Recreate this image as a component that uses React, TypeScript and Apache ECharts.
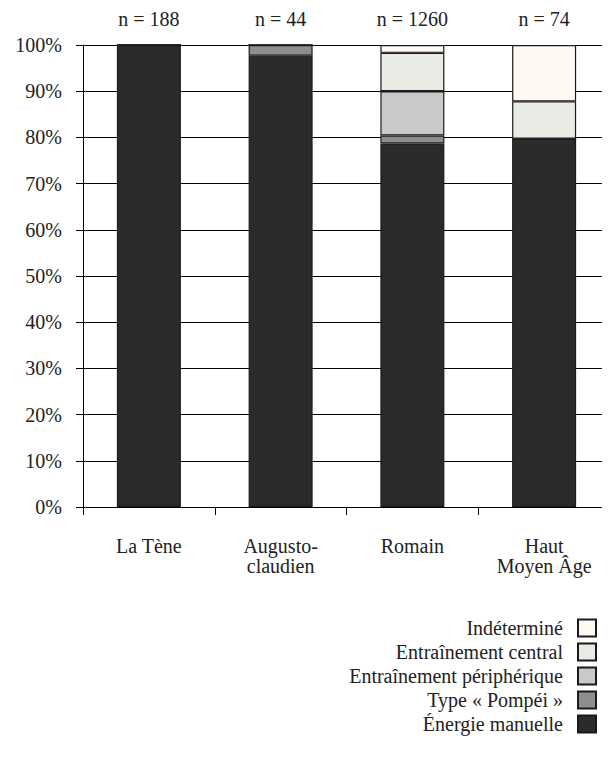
import React, { useEffect, useRef } from "react";
import * as echarts from "echarts";

const categories = ["La Tène", "Augusto-\nclaudien", "Romain", "Haut\nMoyen Âge"];
const nLabels = ["n = 188", "n = 44", "n = 1260", "n = 74"];
const energieManuelle = [100, 97.7, 78.7, 79.7];
const typePompei = [0, 2.3, 1.7, 0];
const entrainementPeripherique = [0, 0, 9.6, 0];
const entrainementCentral = [0, 0, 8.3, 8.1];
const indetermine = [0, 0, 1.7, 12.2];
const yTicks = [0, 10, 20, 30, 40, 50, 60, 70, 80, 90, 100];

const seriesDefs = [
  { name: "Énergie manuelle", data: energieManuelle, color: "#2b2b2b" },
  { name: "Type « Pompéi »", data: typePompei, color: "#8e8e8e" },
  { name: "Entraînement périphérique", data: entrainementPeripherique, color: "#c9c9c9" },
  { name: "Entraînement central", data: entrainementCentral, color: "#ebebe6" },
  { name: "Indéterminé", data: indetermine, color: "#fff9f1" },
];

const FONT = "Liberation Serif";
const FS = 20;

export default function App() {
  const ref = useRef<HTMLDivElement>(null);
  useEffect(() => {
    if (!ref.current) return;
    const chart = echarts.init(ref.current, null, { renderer: "svg" });
    chart.setOption({
      animation: false,
      textStyle: { fontFamily: FONT },
      grid: { left: 83, right: 0, top: 45, bottom: 260, containLabel: false },
      legend: {
        orient: "vertical",
        right: 8,
        top: 613,
        align: "right",
        itemWidth: 18,
        itemHeight: 17,
        itemGap: 4,
        selectedMode: false,
        icon: "rect",
        data: [...seriesDefs].reverse().map((s) => s.name),
        textStyle: { fontFamily: FONT, fontSize: FS, lineHeight: 20, color: "#222", padding: [0, 10, 0, 0] },
      },
      xAxis: [
        {
          type: "category",
          data: categories,
          position: "bottom",
          axisLine: { lineStyle: { color: "#000", width: 1 } },
          axisTick: { show: true, alignWithLabel: false, length: 8, lineStyle: { color: "#000" } },
          axisLabel: {
            interval: 0,
            margin: 29,
            fontFamily: FONT,
            fontSize: FS,
            lineHeight: 20,
            color: "#222",
          },
        },
        {
          type: "category",
          data: nLabels,
          position: "top",
          axisLine: { show: false },
          axisTick: { show: false },
          axisLabel: { interval: 0, margin: 16, fontFamily: FONT, fontSize: FS, color: "#222" },
        },
      ],
      yAxis: {
        type: "value",
        min: 0,
        max: 100,
        interval: 10,
        axisLine: { show: true, lineStyle: { color: "#000", width: 1 } },
        axisTick: { show: true, length: 7, lineStyle: { color: "#000" } },
        splitLine: { show: true, lineStyle: { color: "#000", width: 1 } },
        axisLabel: {
          margin: 21,
          fontFamily: FONT,
          fontSize: FS,
          color: "#222",
          formatter: (v: number) => (yTicks.includes(v) ? `${v}%` : ""),
        },
      },
      series: seriesDefs.map((s) => ({
        name: s.name,
        type: "bar",
        stack: "total",
        barWidth: 64,
        xAxisIndex: 0,
        data: s.data,
        itemStyle: { color: s.color, borderColor: "#1a1a1a", borderWidth: 1.2 },
      })),
    });
    return () => chart.dispose();
  }, []);
  return <div ref={ref} style={{ width: 610, height: 767, margin: -8 }} />;
}
